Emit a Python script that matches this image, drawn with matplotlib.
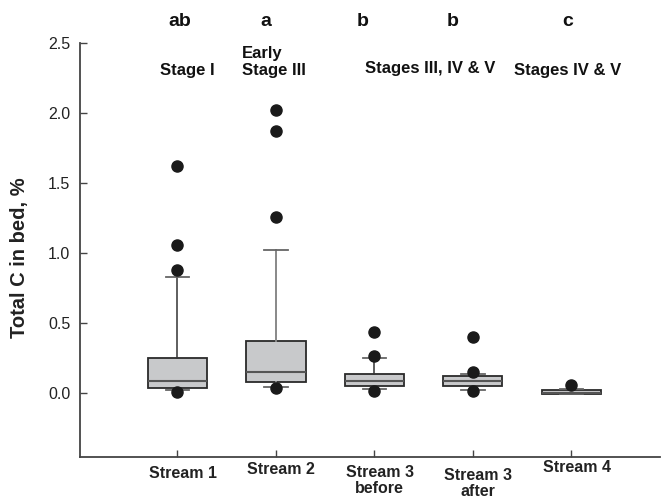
import matplotlib
matplotlib.use("Agg")
import matplotlib.pyplot as plt

plt.rcParams['font.family'] = ['Liberation Sans', 'DejaVu Sans']

categories = ["Stream 1", "Stream 2", "Stream 3\nbefore", "Stream 3\nafter", "Stream 4"]
q1 = [0.034, 0.083, 0.050, 0.050, -0.007]
med = [0.090, 0.152, 0.086, 0.088, 0.002]
q3 = [0.255, 0.376, 0.140, 0.120, 0.020]
whislo = [0.026, 0.045, 0.029, 0.026, -0.007]
whishi = [0.830, 1.020, 0.255, 0.140, 0.030]
fliers = [
    [0.01, 0.88, 1.06, 1.62],
    [0.04, 1.26, 1.87, 2.02],
    [0.016, 0.265, 0.44],
    [0.016, 0.15, 0.40],
    [0.057],
]
sig_letters = ["ab", "a", "b", "b", "c"]
yticks = [0.0, 0.5, 1.0, 1.5, 2.0, 2.5]

fig = plt.figure(figsize=(6.62, 5.03), dpi=100)
W, H = 662, 503
ax = fig.add_axes([80 / W, 1 - 457 / H, (660 - 80) / W, (457 - 43) / H])

positions = list(range(1, len(categories) + 1))
stats = []
for i in range(len(categories)):
    stats.append(dict(q1=q1[i], med=med[i], q3=q3[i], whislo=whislo[i],
                      whishi=whishi[i], fliers=fliers[i], label=categories[i]))

res = ax.bxp(stats, positions=positions, widths=0.6, patch_artist=True,
             boxprops=dict(facecolor="#c8c9cb", edgecolor="#2a2a2a", linewidth=1.3),
             medianprops=dict(color="#555555", linewidth=1.5),
             whiskerprops=dict(color="#333333", linewidth=1.1),
             capprops=dict(color="#666666", linewidth=1.3),
             capwidths=0.24,
             flierprops=dict(marker="o", markerfacecolor="#1a1a1a", markeredgecolor="#1a1a1a",
                             markersize=8),
             zorder=3)
for w in res["whiskers"][2:4]:
    w.set_color("#888888")
    w.set_linewidth(1.4)

ax.set_xlim(0.01, 5.9)
ax.set_ylim(-0.455, 2.5)
ax.set_yticks(yticks)
ax.set_yticklabels([f"{v:.1f}" for v in yticks], fontsize=11.5, color="#222222")
ax.set_xticks(positions)
ax.set_xticklabels([])
ax.tick_params(axis="y", direction="in", length=5, width=1, color="#444444", pad=7)
ax.tick_params(axis="x", direction="in", length=5, width=1, color="#444444")
for s in ["top", "right"]:
    ax.spines[s].set_visible(False)
for s in ["left", "bottom"]:
    ax.spines[s].set_color("#444444")
    ax.spines[s].set_linewidth(1.3)

# x category labels (bold, slightly staggered like the reference)
label_top = [466, 462, 465, 468, 460]
for p, c, yy in zip(positions, categories, label_top):
    xpix = ax.transData.transform((p, 0))[0]
    fig.text(xpix / W + 0.008, 1 - yy / H, c, ha="center", va="top",
             fontsize=11.5, fontweight="bold", color="#222222", linespacing=1.05)

fig.text(20 / W, 1 - 258 / H, "Total C in bed, %", rotation=90, ha="center", va="center",
         fontsize=14.5, fontweight="bold", color="#222222")

# significance letters
letter_x = [180, 266, 363, 453, 568]
for lx, lt in zip(letter_x, sig_letters):
    fig.text(lx / W, 1 - 22 / H, lt, ha="center", va="center", fontsize=14,
             fontweight="bold", color="#111111")

# stage annotations
fs = 12
fig.text(187 / W, 1 - 71 / H, "Stage I", ha="center", va="center", fontsize=fs,
         fontweight="bold", color="#111111")
fig.text(242 / W, 1 - 62 / H, "Early\nStage III", ha="left", va="center", fontsize=fs,
         fontweight="bold", color="#111111", linespacing=1.15)
fig.text(430 / W, 1 - 68 / H, "Stages III, IV & V", ha="center", va="center", fontsize=fs,
         fontweight="bold", color="#111111")
fig.text(568 / W, 1 - 71 / H, "Stages IV & V", ha="center", va="center", fontsize=fs,
         fontweight="bold", color="#111111")

fig.savefig("out.png", dpi=100)
